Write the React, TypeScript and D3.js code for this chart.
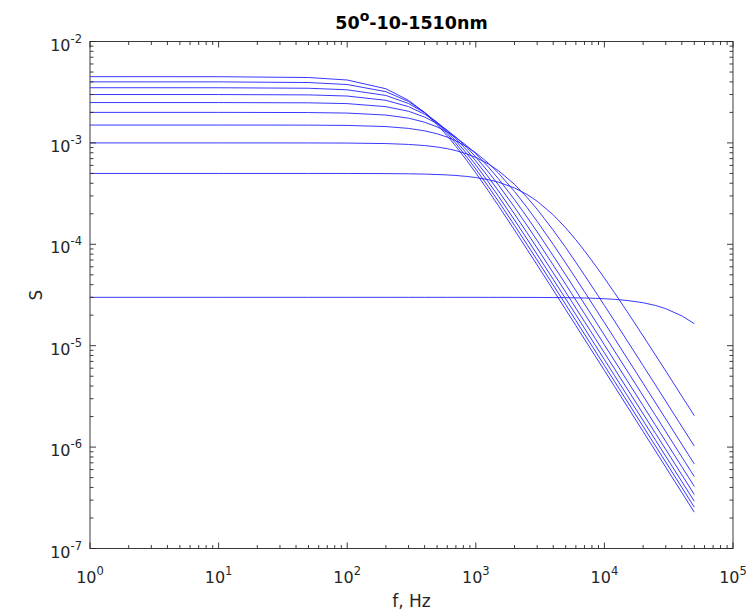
import React from "react";
import * as d3 from "d3";

const freqs = [1, 10, 50, 100, 200, 300, 400, 500, 600, 700, 850, 1000, 1250, 1500, 2000, 2500, 3000, 4000, 5000, 6000, 7000, 8500, 10000, 12000, 15000, 20000, 25000, 30000, 40000, 50000];

const s1 = [4.5e-3, 4.496e-3, 4.413e-3, 4.171e-3, 3.42e-3, 2.631e-3, 1.989e-3, 1.514e-3, 1.172e-3, 9.25e-4, 6.715e-4, 5.06e-4, 3.376e-4, 2.4e-4, 1.382e-4, 8.94e-5, 6.25e-5, 3.536e-5, 2.27e-5, 1.579e-5, 1.161e-5, 7.88e-6, 5.7e-6, 3.957e-6, 2.533e-6, 1.425e-6, 9.123e-7, 6.336e-7, 3.564e-7, 2.281e-7];
const s2 = [4.0e-3, 3.998e-3, 3.938e-3, 3.765e-3, 3.2e-3, 2.56e-3, 2.0e-3, 1.561e-3, 1.231e-3, 9.85e-4, 7.25e-4, 5.52e-4, 3.716e-4, 2.656e-4, 1.538e-4, 9.98e-5, 6.99e-5, 3.96e-5, 2.544e-5, 1.77e-5, 1.302e-5, 8.84e-6, 6.39e-6, 4.44e-6, 2.843e-6, 1.599e-6, 1.024e-6, 7.11e-7, 4.0e-7, 2.56e-7];
const s3 = [3.5e-3, 3.498e-3, 3.459e-3, 3.34e-3, 2.937e-3, 2.446e-3, 1.982e-3, 1.593e-3, 1.285e-3, 1.046e-3, 7.85e-4, 6.05e-4, 4.127e-4, 2.973e-4, 1.737e-4, 1.132e-4, 7.94e-5, 4.51e-5, 2.9e-5, 2.019e-5, 1.486e-5, 1.009e-5, 7.29e-6, 5.069e-6, 3.246e-6, 1.826e-6, 1.169e-6, 8.12e-7, 4.568e-7, 2.924e-7];
const s4 = [3.0e-3, 2.999e-3, 2.974e-3, 2.898e-3, 2.63e-3, 2.278e-3, 1.919e-3, 1.596e-3, 1.323e-3, 1.101e-3, 8.47e-4, 6.64e-4, 4.615e-4, 3.363e-4, 1.989e-4, 1.304e-4, 9.18e-5, 5.23e-5, 3.371e-5, 2.349e-5, 1.729e-5, 1.175e-5, 8.5e-6, 5.907e-6, 3.783e-6, 2.129e-6, 1.363e-6, 9.47e-7, 5.326e-7, 3.409e-7];
const s5 = [2.5e-3, 2.499e-3, 2.485e-3, 2.44e-3, 2.278e-3, 2.05e-3, 1.798e-3, 1.552e-3, 1.331e-3, 1.138e-3, 9.04e-4, 7.26e-4, 5.19e-4, 3.85e-4, 2.322e-4, 1.538e-4, 1.088e-4, 6.24e-5, 4.03e-5, 2.812e-5, 2.072e-5, 1.409e-5, 1.02e-5, 7.09e-6, 4.543e-6, 2.557e-6, 1.637e-6, 1.137e-6, 6.398e-7, 4.095e-7];
const s6 = [2.0e-3, 2.0e-3, 1.992e-3, 1.969e-3, 1.882e-3, 1.753e-3, 1.6e-3, 1.438e-3, 1.28e-3, 1.133e-3, 9.39e-4, 7.8e-4, 5.81e-4, 4.429e-4, 2.759e-4, 1.858e-4, 1.328e-4, 7.69e-5, 4.992e-5, 3.493e-5, 2.579e-5, 1.756e-5, 1.272e-5, 8.85e-6, 5.673e-6, 3.195e-6, 2.046e-6, 1.421e-6, 7.997e-7, 5.119e-7];
const s7 = [1.5e-3, 1.5e-3, 1.497e-3, 1.487e-3, 1.449e-3, 1.39e-3, 1.315e-3, 1.23e-3, 1.14e-3, 1.049e-3, 9.18e-4, 7.99e-4, 6.32e-4, 5.04e-4, 3.323e-4, 2.311e-4, 1.684e-4, 9.96e-5, 6.533e-5, 4.598e-5, 3.406e-5, 2.327e-5, 1.688e-5, 1.177e-5, 7.552e-6, 4.257e-6, 2.727e-6, 1.895e-6, 1.066e-6, 6.828e-7];
const s8 = [1.0e-3, 1.0e-3, 9.99e-4, 9.96e-4, 9.85e-4, 9.66e-4, 9.41e-4, 9.11e-4, 8.77e-4, 8.39e-4, 7.8e-4, 7.19e-4, 6.21e-4, 5.32e-4, 3.902e-4, 2.906e-4, 2.215e-4, 1.379e-4, 9.29e-5, 6.64e-5, 4.965e-5, 3.422e-5, 2.496e-5, 1.747e-5, 1.125e-5, 6.36e-6, 4.079e-6, 2.836e-6, 1.597e-6, 1.023e-6];
const s9 = [5.0e-4, 5.0e-4, 5.0e-4, 4.995e-4, 4.98e-4, 4.956e-4, 4.923e-4, 4.881e-4, 4.83e-4, 4.772e-4, 4.67e-4, 4.555e-4, 4.338e-4, 4.099e-4, 3.596e-4, 3.105e-4, 2.661e-4, 1.951e-4, 1.453e-4, 1.107e-4, 8.64e-5, 6.207e-5, 4.644e-5, 3.32e-5, 2.177e-5, 1.248e-5, 8.06e-6, 5.625e-6, 3.18e-6, 2.04e-6];
const s10 = [3.0e-5, 3.0e-5, 3.0e-5, 3.0e-5, 3.0e-5, 3.0e-5, 3.0e-5, 3.0e-5, 3.0e-5, 3.0e-5, 3.0e-5, 3.0e-5, 2.998e-5, 2.998e-5, 2.996e-5, 2.994e-5, 2.991e-5, 2.984e-5, 2.976e-5, 2.965e-5, 2.953e-5, 2.931e-5, 2.905e-5, 2.865e-5, 2.794e-5, 2.653e-5, 2.491e-5, 2.318e-5, 1.969e-5, 1.65e-5];

const seriesList = [s1, s2, s3, s4, s5, s6, s7, s8, s9, s10];

const xTickExps = [0, 1, 2, 3, 4, 5];
const yTickExps = [-2, -3, -4, -5, -6, -7];

const titleMain = "50";
const titleSup = "o";
const titleRest = "-10-1510nm";
const xLabel = "f, Hz";
const yLabel = "S";

const W = 753;
const H = 614;
const L = 90;
const R = 733;
const T = 41.5;
const B = 548.5;

export default function App() {
  const x = d3.scaleLog().domain([1, 1e5]).range([L, R]);
  const y = d3.scaleLog().domain([1e-7, 1e-2]).range([B, T]);
  const line = d3
    .line<number>()
    .x((_, i) => x(freqs[i]))
    .y((d) => y(d));

  const axisColor = "#262626";
  const font = "DejaVu Sans, sans-serif";

  const xMinor: number[] = [];
  for (let e = 0; e < 5; e++) for (let k = 2; k <= 9; k++) xMinor.push(k * Math.pow(10, e));
  const yMinor: number[] = [];
  for (let e = -7; e < -2; e++) for (let k = 2; k <= 9; k++) yMinor.push(k * Math.pow(10, e));
  const majLen = 6;
  const minLen = 3.5;

  return (
    <svg
      width={W}
      height={H}
      style={{ position: "absolute", left: 0, top: 0, background: "#fff" }}
      fontFamily={font}
    >
      <rect x={0} y={0} width={W} height={H} fill="#fff" />
      <g>
        {seriesList.map((s, i) => (
          <path key={i} d={line(s) || ""} fill="none" stroke="#2222ff" strokeWidth={0.9} />
        ))}
      </g>
      <g stroke={axisColor} strokeWidth={0.9} fill="none">
        <rect x={L} y={T} width={R - L} height={B - T} />
        {xTickExps.map((e) => {
          const px = x(Math.pow(10, e));
          return (
            <g key={"xm" + e}>
              <line x1={px} x2={px} y1={B} y2={B - majLen} />
              <line x1={px} x2={px} y1={T} y2={T + majLen} />
            </g>
          );
        })}
        {xMinor.map((v, i) => {
          const px = x(v);
          return (
            <g key={"xn" + i}>
              <line x1={px} x2={px} y1={B} y2={B - minLen} />
              <line x1={px} x2={px} y1={T} y2={T + minLen} />
            </g>
          );
        })}
        {yTickExps.map((e) => {
          const py = y(Math.pow(10, e));
          return (
            <g key={"ym" + e}>
              <line x1={L} x2={L + majLen} y1={py} y2={py} />
              <line x1={R} x2={R - majLen} y1={py} y2={py} />
            </g>
          );
        })}
        {yMinor.map((v, i) => {
          const py = y(v);
          return (
            <g key={"yn" + i}>
              <line x1={L} x2={L + minLen} y1={py} y2={py} />
              <line x1={R} x2={R - minLen} y1={py} y2={py} />
            </g>
          );
        })}
      </g>
      <g fill={axisColor} fontSize={16}>
        {xTickExps.map((e) => (
          <text key={"xl" + e} x={x(Math.pow(10, e))} y={B + 34} textAnchor="middle">
            10
            <tspan dy={-8} fontSize={11.5}>
              {String(e)}
            </tspan>
          </text>
        ))}
        {yTickExps.map((e) => (
          <text key={"yl" + e} x={L - 8} y={y(Math.pow(10, e)) + 9} textAnchor="end">
            10
            <tspan dy={-8} fontSize={11.5}>
              {String(e)}
            </tspan>
          </text>
        ))}
        <text x={(L + R) / 2} y={607} textAnchor="middle" fontSize={17}>
          {xLabel}
        </text>
        <text
          transform={`translate(${42},${(T + B) / 2}) rotate(-90)`}
          textAnchor="middle"
          fontSize={17}
        >
          {yLabel}
        </text>
      </g>
      <text x={(L + R) / 2} y={29} textAnchor="middle" fontSize={17.5} fontWeight="bold" fill="#000">
        {titleMain}
        <tspan dy={-8} fontSize={14}>
          {titleSup}
        </tspan>
        <tspan dy={8}>{titleRest}</tspan>
      </text>
    </svg>
  );
}
